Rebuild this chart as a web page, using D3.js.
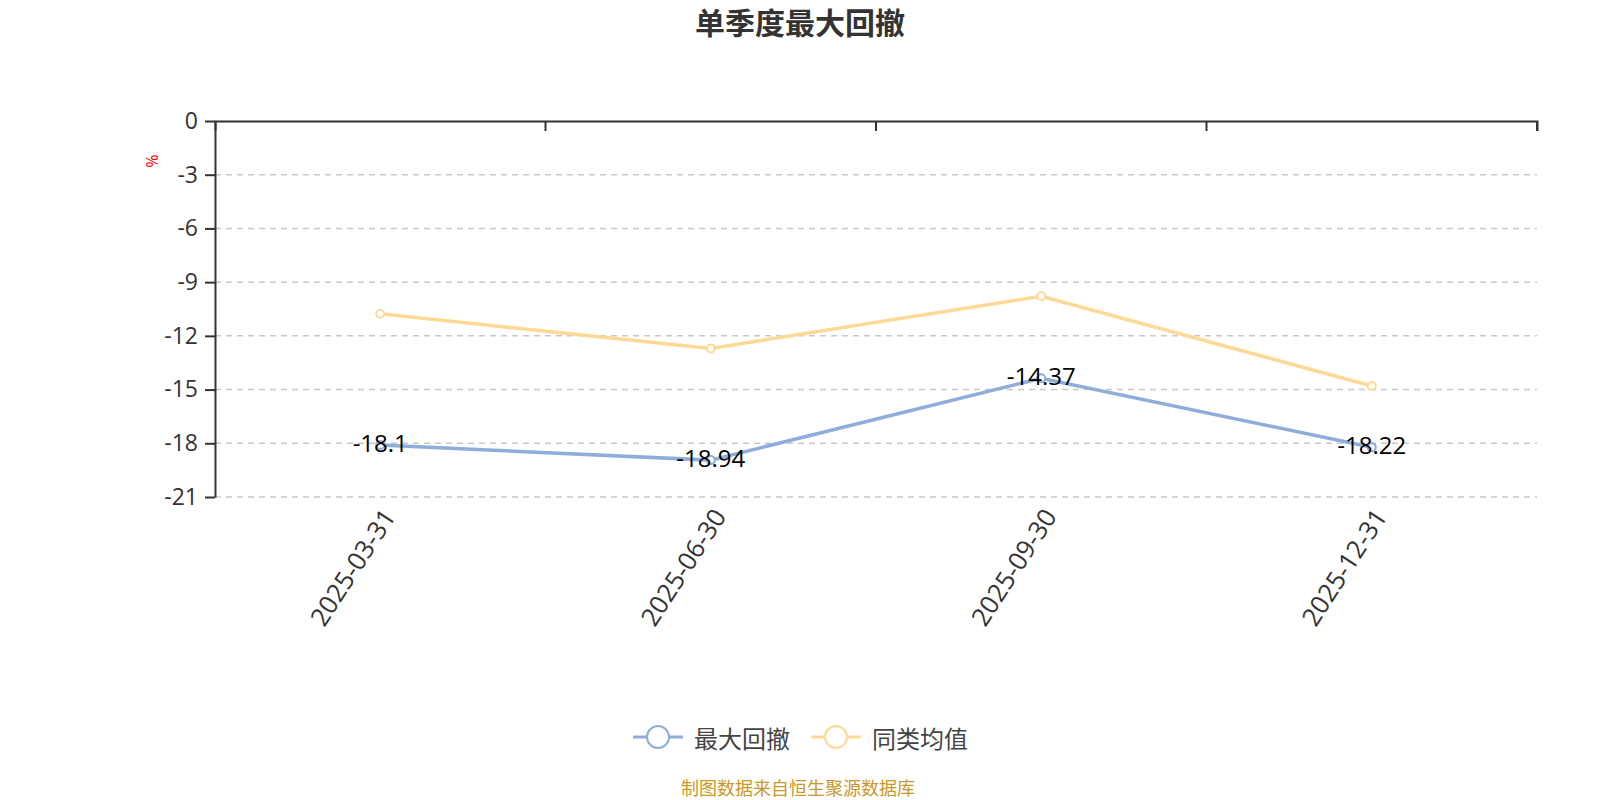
<!DOCTYPE html>
<html>
<head>
<meta charset="utf-8">
<script src="https://cdn.jsdelivr.net/npm/d3@7"></script>
<style>
  body { margin: 0; background: #fff; }
  text { font-family: "Open Sans", "Noto Sans CJK SC", sans-serif; }
</style>
</head>
<body>
<div id="chart"></div>
<script>
// chart data
const dates = ["2025-03-31", "2025-06-30", "2025-09-30", "2025-12-31"];
const maxDrawdown = [-18.1, -18.94, -14.37, -18.22];
const peerAverage = [-10.77, -12.7, -9.79, -14.8];
const yTicks = [0, -3, -6, -9, -12, -15, -18, -21];
const seriesNames = ["最大回撤", "同类均值"];

function init() {
  const width = 1600, height = 800;
  const margin = { top: 121, right: 63, bottom: 303, left: 215 };
  const colors = ["#8eaddb", "#fed995"];

  const svg = d3.select("#chart")
                .append("svg")
                .attr("width", width)
                .attr("height", height);

  // title
  svg.append("text")
     .attr("x", 800)
     .attr("y", 34)
     .attr("text-anchor", "middle")
     .style("font-family", "'Noto Sans CJK SC', sans-serif")
     .style("font-size", "30px")
     .style("font-weight", "bold")
     .style("fill", "#333")
     .text("单季度最大回撤");

  const x = d3.scaleBand()
              .domain(dates)
              .range([margin.left, width - margin.right]);

  const y = d3.scaleLinear()
              .domain([-21, 0])
              .range([height - margin.bottom, margin.top]);

  // dashed grid lines
  svg.append("g")
     .selectAll("line")
     .data(yTicks.filter(d => d !== 0))
     .enter()
     .append("line")
     .attr("x1", margin.left)
     .attr("x2", width - margin.right)
     .attr("y1", d => y(d))
     .attr("y2", d => y(d))
     .style("stroke", "#c8c8c8")
     .style("stroke-width", 1.5)
     .style("stroke-dasharray", "6,5");

  // y axis
  const yAxis = svg.append("g")
     .attr("transform", `translate(${margin.left},0)`)
     .call(d3.axisLeft(y).tickValues(yTicks).tickSize(10).tickPadding(7)
             .tickSizeOuter(0).tickFormat(d => String(d)));
  yAxis.select(".domain").style("stroke", "#333").style("stroke-width", 2);
  yAxis.selectAll(".tick line").style("stroke", "#333").style("stroke-width", 2);
  yAxis.selectAll(".tick text")
       .style("font-size", "23px")
       .style("fill", "#333");

  // x axis sits on the zero line, labels drawn below the plot
  const xAxis = svg.append("g")
     .attr("transform", `translate(0,${y(0)})`)
     .call(d3.axisBottom(x).tickSize(10).tickSizeOuter(10).tickFormat(""));
  xAxis.select(".domain").style("stroke", "#333").style("stroke-width", 2);
  xAxis.selectAll(".tick").remove();

  // ticks on category boundaries
  const bounds = dates.map(d => x(d)).concat([x(dates[dates.length - 1]) + x.bandwidth()]);
  svg.append("g")
     .selectAll("line")
     .data(bounds.slice(1))
     .enter()
     .append("line")
     .attr("x1", d => d)
     .attr("x2", d => d)
     .attr("y1", y(0))
     .attr("y2", y(0) + 10)
     .style("stroke", "#333")
     .style("stroke-width", 2);

  // rotated date labels
  svg.append("g")
     .selectAll("text")
     .data(dates)
     .enter()
     .append("text")
     .attr("transform", d => `translate(${x(d) + x.bandwidth() / 2 + 8},${y(-21) + 14}) rotate(-57)`)
     .attr("text-anchor", "end")
     .attr("dominant-baseline", "central")
     .style("font-size", "25.5px")
     .style("fill", "#333")
     .text(d => d);

  // unit label
  svg.append("text")
     .attr("transform", "translate(152,161) rotate(90)")
     .attr("text-anchor", "middle")
     .attr("dominant-baseline", "central")
     .style("font-size", "16px")
     .style("fill", "#ff0000")
     .text("%");

  const cx = d => x(d) + x.bandwidth() / 2;
  const line = d3.line()
                 .x(d => cx(d.date))
                 .y(d => y(d.value));

  const series = [maxDrawdown, peerAverage].map((vals, i) => ({
    name: seriesNames[i],
    color: colors[i],
    points: vals.map((v, j) => ({ date: dates[j], value: v }))
  }));

  // draw peer average first so max drawdown sits on top
  series.slice().reverse().forEach(s => {
    svg.append("path")
       .datum(s.points)
       .attr("d", line)
       .style("fill", "none")
       .style("stroke", s.color)
       .style("stroke-width", 3.5);

    svg.append("g")
       .selectAll("circle")
       .data(s.points)
       .enter()
       .append("circle")
       .attr("cx", d => cx(d.date))
       .attr("cy", d => y(d.value))
       .attr("r", 4)
       .style("fill", "#fff")
       .style("stroke", s.color)
       .style("stroke-width", 2);
  });

  // value labels on max drawdown
  svg.append("g")
     .selectAll("text")
     .data(series[0].points)
     .enter()
     .append("text")
     .attr("x", d => cx(d.date))
     .attr("y", d => y(d.value) - 3)
     .attr("text-anchor", "middle")
     .attr("dominant-baseline", "central")
     .style("font-size", "24px")
     .style("fill", "#000")
     .text(d => d.value);

  // legend
  const legendX = [633, 811];
  series.forEach((s, i) => {
    const g = svg.append("g").attr("transform", `translate(${legendX[i]},737)`);
    g.append("line")
     .attr("x1", 0).attr("x2", 50)
     .style("stroke", s.color)
     .style("stroke-width", 3);
    g.append("circle")
     .attr("cx", 25)
     .attr("r", 11)
     .style("fill", "#fff")
     .style("stroke", s.color)
     .style("stroke-width", 2);
    g.append("text")
     .attr("x", 61)
     .attr("dominant-baseline", "central")
     .style("font-family", "'Noto Sans CJK SC', sans-serif")
     .style("font-size", "24px")
     .style("fill", "#444")
     .text(s.name);
  });

  // source note
  svg.append("text")
     .attr("x", 798)
     .attr("y", 787)
     .attr("text-anchor", "middle")
     .attr("dominant-baseline", "central")
     .style("font-family", "'Noto Sans CJK SC', sans-serif")
     .style("font-size", "18px")
     .style("fill", "#c9982a")
     .text("制图数据来自恒生聚源数据库");
}

window.onload = init;
</script>
</body>
</html>
